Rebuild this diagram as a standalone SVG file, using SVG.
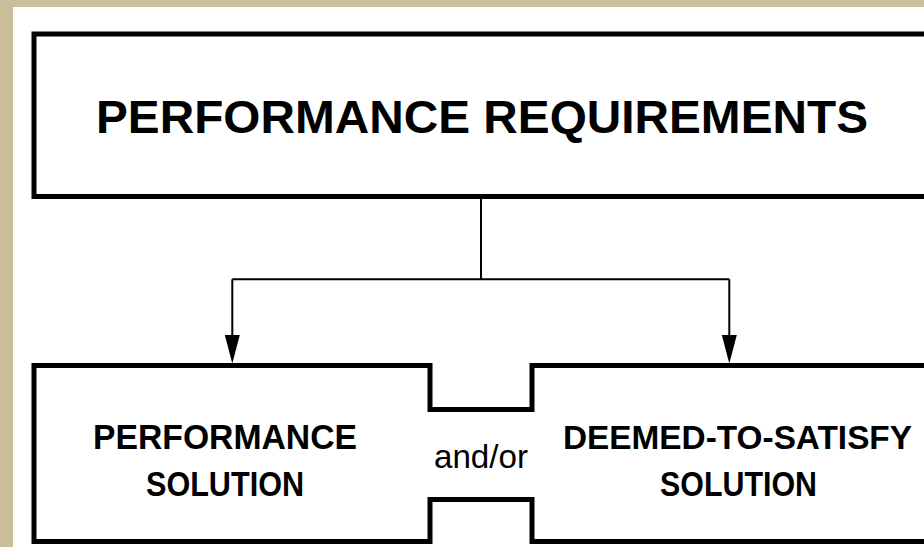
<svg xmlns="http://www.w3.org/2000/svg" width="924" height="547" viewBox="0 0 924 547">
<style>
.box{fill:#fff;stroke:#000;stroke-width:5;stroke-linejoin:miter}
.conn{fill:none;stroke:#000;stroke-width:2}
.head{fill:#000}
.lbl{font-family:"Liberation Sans",Arial,sans-serif;font-weight:bold;fill:#000;text-anchor:middle}
.reg{font-family:"Liberation Sans",Arial,sans-serif;fill:#000;text-anchor:middle}
</style>
<rect x="0" y="0" width="924" height="547" fill="#C9C09B"/>
<rect x="13" y="7" width="911" height="540" fill="#fff"/>
<g id="requirements">
<rect class="box" x="34" y="34" width="900" height="162.5"/>
<text class="lbl" x="482" y="133" font-size="47" textLength="772" lengthAdjust="spacingAndGlyphs">PERFORMANCE REQUIREMENTS</text>
</g>
<g id="solutions-outline">
<path class="box" d="M934 365.5 H532 V409.5 H430 V365.5 H34 V541.5 H430 V499.5 H532 V541.5 H934"/>
</g>
<g id="performance-solution">
<text class="lbl" x="225" y="449" font-size="35" textLength="264" lengthAdjust="spacingAndGlyphs">PERFORMANCE</text>
<text class="lbl" x="225" y="496" font-size="35" textLength="158" lengthAdjust="spacingAndGlyphs">SOLUTION</text>
</g>
<g id="dts-solution">
<text class="lbl" x="737.5" y="449" font-size="33" textLength="349" lengthAdjust="spacingAndGlyphs">DEEMED-TO-SATISFY</text>
<text class="lbl" x="738.5" y="496" font-size="35" textLength="157" lengthAdjust="spacingAndGlyphs">SOLUTION</text>
</g>
<g id="andor">
<text class="reg" x="481" y="467.5" font-size="33" textLength="94" lengthAdjust="spacingAndGlyphs">and/or</text>
</g>
<g id="connectors">
<path class="conn" d="M481 196.5 V279.3 M232.3 279.3 H729.3 M232.3 279.3 V336 M729.3 279.3 V336"/>
<polygon class="head" points="224.8,335 239.8,335 232.3,363.5"/>
<polygon class="head" points="721.8,335 736.8,335 729.3,363.5"/>
</g>
</svg>
